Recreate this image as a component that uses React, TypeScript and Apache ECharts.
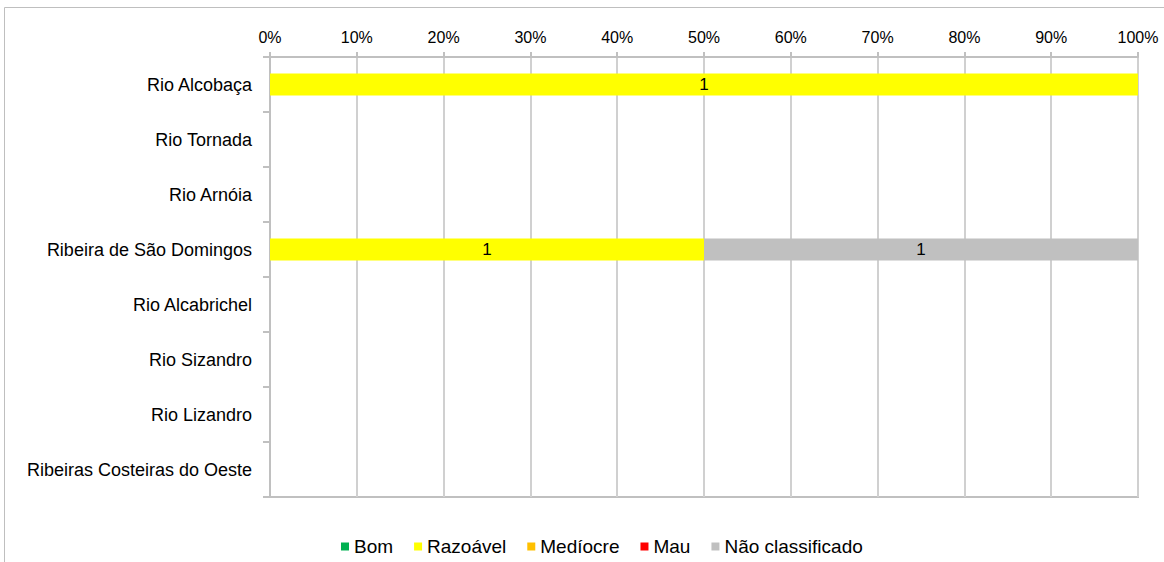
import React, { useEffect, useRef } from "react";
import * as echarts from "echarts";

const categories = [
  "Rio Alcobaça",
  "Rio Tornada",
  "Rio Arnóia",
  "Ribeira de São Domingos",
  "Rio Alcabrichel",
  "Rio Sizandro",
  "Rio Lizandro",
  "Ribeiras Costeiras do Oeste",
];
const seriesNames = ["Bom", "Razoável", "Medíocre", "Mau", "Não classificado"];
const bom = [0, 0, 0, 0, 0, 0, 0, 0];
const razoavel = [1, 0, 0, 1, 0, 0, 0, 0];
const mediocre = [0, 0, 0, 0, 0, 0, 0, 0];
const mau = [0, 0, 0, 0, 0, 0, 0, 0];
const naoClassificado = [0, 0, 0, 1, 0, 0, 0, 0];
const colors = ["#00B050", "#FFFF00", "#FFC000", "#FF0000", "#C0C0C0"];

const FONT = "'Liberation Sans', Arial, sans-serif";

export default function App() {
  const ref = useRef<HTMLDivElement>(null);
  useEffect(() => {
    if (!ref.current) return;
    const chart = echarts.init(ref.current, null, { renderer: "svg" });
    const all = [bom, razoavel, mediocre, mau, naoClassificado];
    const totals = categories.map((_, i) => all.reduce((s, arr) => s + arr[i], 0));
    const series = all.map((arr, si) => ({
      name: seriesNames[si],
      type: "bar",
      stack: "total",
      barWidth: 22,
      itemStyle: { color: colors[si] },
      label: {
        show: true,
        position: "inside",
        color: "#000",
        fontSize: 17,
        fontFamily: FONT,
        formatter: (p: any) => (p.data.count > 0 ? String(p.data.count) : ""),
      },
      data: arr.map((v, i) => ({
        value: totals[i] ? (v / totals[i]) * 100 : 0,
        count: v,
      })),
    }));
    chart.setOption({
      animation: false,
      backgroundColor: "#fff",
      textStyle: { fontFamily: FONT },
      graphic: [
        {
          type: "rect",
          z: -10,
          shape: { x: 4.5, y: 7.5, width: 1200, height: 600 },
          style: { fill: "none", stroke: "#BFBFBF", lineWidth: 1 },
        },
      ],
      grid: {
        left: 270,
        right: 26,
        top: 57,
        bottom: 65,
        show: true,
        borderColor: "#C0C0C0",
        borderWidth: 2,
      },
      legend: {
        left: 336,
        top: 532,
        itemWidth: 8,
        itemHeight: 8,
        itemGap: 21,
        icon: "rect",
        textStyle: { fontSize: 19, color: "#000", fontFamily: FONT },
        data: seriesNames,
      },
      xAxis: {
        type: "value",
        position: "top",
        min: 0,
        max: 100,
        interval: 10,
        axisLine: { show: true, lineStyle: { color: "#C0C0C0", width: 2 } },
        axisTick: { show: true, length: 5, lineStyle: { color: "#C0C0C0", width: 2 } },
        axisLabel: {
          formatter: "{value}%",
          fontSize: 16,
          color: "#000",
          margin: 12,
          fontFamily: FONT,
        },
        splitLine: { show: true, lineStyle: { color: "#D0D0D0", width: 2 } },
      },
      yAxis: {
        type: "category",
        inverse: true,
        data: categories,
        axisLine: { show: true, lineStyle: { color: "#C0C0C0", width: 2 } },
        axisTick: { show: true, length: 7, lineStyle: { color: "#C0C0C0", width: 2 } },
        axisLabel: { fontSize: 18, color: "#000", margin: 18, fontFamily: FONT },
        splitLine: { show: false },
      },
      series,
    });
    return () => chart.dispose();
  }, []);
  return (
    <div
      ref={ref}
      style={{ position: "fixed", left: 0, top: 0, width: 1164, height: 562 }}
    />
  );
}
